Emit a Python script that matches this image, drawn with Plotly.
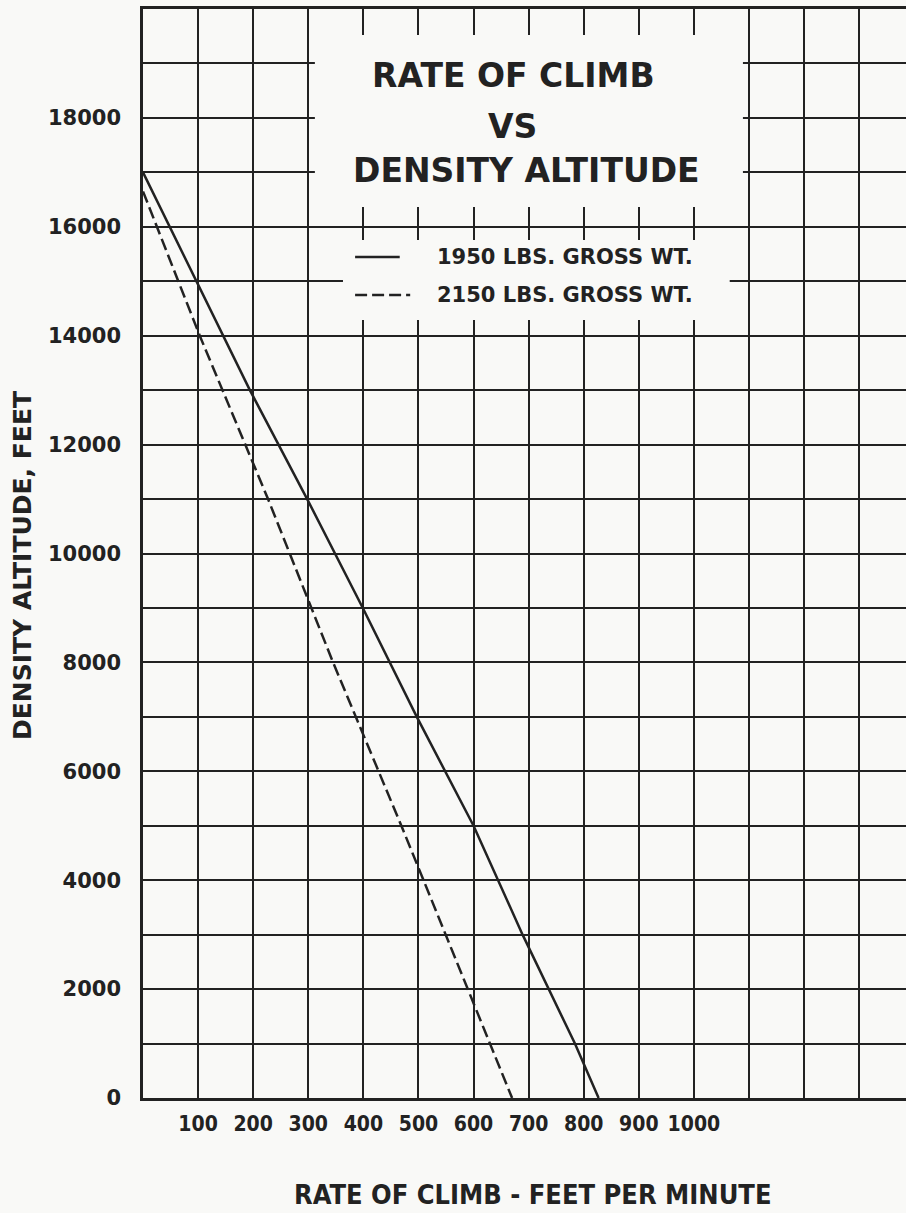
import plotly.graph_objects as go

# ---- data ----
rate_1950 = [0, 194, 298, 399, 497, 600, 689, 784, 827]
alt_1950 = [17000, 13000, 11000, 9000, 7000, 5000, 3000, 1000, 0]

rate_2150 = [0, 103, 227, 345, 469, 590, 670]
alt_2150 = [16650, 14000, 11000, 8000, 5000, 2000, 0]

x_tick_vals = list(range(0, 1400, 100))
x_tick_text = ["", "100", "200", "300", "400", "500", "600", "700", "800", "900", "1000", "", "", ""]
y_tick_vals = list(range(0, 20000, 1000))
y_tick_text = ["0", "", "2000", "", "4000", "", "6000", "", "8000", "", "10000", "",
               "12000", "", "14000", "", "16000", "", "18000", ""]

title_lines = ["RATE OF CLIMB", "VS", "DENSITY ALTITUDE"]
legend_labels = ["1950 LBS. GROSS WT.", "2150 LBS. GROSS WT."]
x_title = "RATE OF CLIMB - FEET PER MINUTE"
y_title = "DENSITY ALTITUDE, FEET"

INK = "#222222"
BG = "#f9f9f7"
FONT = "DejaVu Sans"
COND = "DejaVu Sans Condensed, DejaVu Sans"

fig = go.Figure()
fig.add_trace(go.Scatter(x=rate_1950, y=alt_1950, mode="lines",
                         line=dict(color=INK, width=2.5), name=legend_labels[0],
                         showlegend=False))
fig.add_trace(go.Scatter(x=rate_2150, y=alt_2150, mode="lines",
                         line=dict(color=INK, width=2.5, dash="12px,5px"), name=legend_labels[1],
                         showlegend=False))

shapes = []
# blank areas in the grid for the title block and legend
shapes.append(dict(type="rect", xref="x", yref="y", x0=312, x1=1089, y0=16364, y1=19522,
                   fillcolor=BG, line=dict(width=0), layer="between"))
shapes.append(dict(type="rect", xref="x", yref="y", x0=363, x1=1065, y0=14288, y1=15758,
                   fillcolor=BG, line=dict(width=0), layer="between"))
# legend samples
shapes.append(dict(type="line", xref="x", yref="y", x0=385, x1=466, y0=15445, y1=15445,
                   line=dict(color=INK, width=2.5)))
shapes.append(dict(type="line", xref="x", yref="y", x0=385, x1=485, y0=14748, y1=14748,
                   line=dict(color=INK, width=2.5, dash="12px,5px")))

annotations = []
title_y = [18770, 17833, 17043]
title_x = [673, 671, 697]
for t, xx, yy in zip(title_lines, title_x, title_y):
    annotations.append(dict(text=t, x=xx, y=yy, xref="x", yref="y", showarrow=False,
                            font=dict(family=FONT, size=33, color=INK, weight="bold"),
                            xanchor="center", yanchor="middle"))
for t, yy in zip(legend_labels, [15445, 14748]):
    annotations.append(dict(text=t, x=530, y=yy, xref="x", yref="y", showarrow=False,
                            font=dict(family=FONT, size=21, color=INK, weight="bold"),
                            xanchor="left", yanchor="middle"))
annotations.append(dict(text=x_title, x=0.511, y=-0.0885, xref="paper", yref="paper",
                        showarrow=False, xanchor="center", yanchor="middle",
                        font=dict(family=COND, size=27, color=INK, weight="bold")))
annotations.append(dict(text=y_title, x=-0.1586, y=0.4894, xref="paper", yref="paper",
                        showarrow=False, xanchor="center", yanchor="middle", textangle=-90,
                        font=dict(family=FONT, size=25, color=INK, weight="bold")))

fig.update_layout(
    width=906, height=1213,
    margin=dict(l=143, r=0, t=9, b=115),
    paper_bgcolor=BG, plot_bgcolor=BG,
    shapes=shapes, annotations=annotations,
    showlegend=False,
    xaxis=dict(range=[0, 1385], tickmode="array", tickvals=x_tick_vals, ticktext=x_tick_text,
               showgrid=True, gridcolor=INK, gridwidth=2, zeroline=False,
               showline=True, mirror=True, linecolor=INK, linewidth=2.5,
               ticks="", ticklabelstandoff=5,
               tickfont=dict(family=COND, size=21, color=INK, weight="bold")),
    yaxis=dict(range=[0, 20000], tickmode="array", tickvals=y_tick_vals, ticktext=y_tick_text,
               showgrid=True, gridcolor=INK, gridwidth=2, zeroline=False,
               showline=True, mirror=False, linecolor=INK, linewidth=2.5,
               ticks="", ticklabelstandoff=15,
               tickfont=dict(family=FONT, size=21, color=INK, weight="bold")),
)

fig.write_html("out.html", config={"displayModeBar": False},
               post_script="document.body.style.margin='0';document.body.style.overflow='hidden';")
